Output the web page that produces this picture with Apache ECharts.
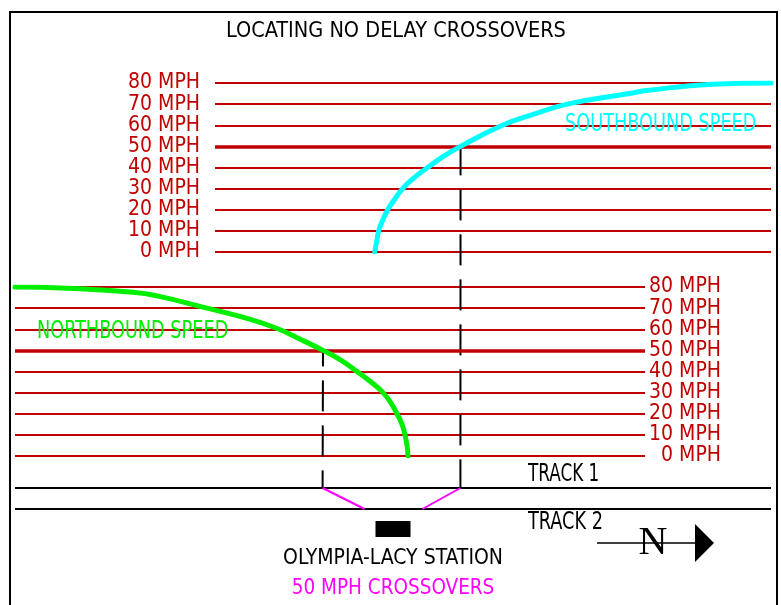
<!DOCTYPE html>
<html>
<head>
<meta charset="utf-8">
<title>Locating No Delay Crossovers</title>
<script src="https://cdn.jsdelivr.net/npm/echarts@6/dist/echarts.min.js"></script>
<style>
  html, body { margin: 0; padding: 0; background: #fff; }
  #main { width: 781px; height: 605px; }
</style>
</head>
<body>
<div id="main"></div>
<script>
// speed scale and its tick labels
var speedTicks = [0, 10, 20, 30, 40, 50, 60, 70, 80];
var speedLabels = ['0 MPH', '10 MPH', '20 MPH', '30 MPH', '40 MPH', '50 MPH', '60 MPH', '70 MPH', '80 MPH'];

// southbound speed profile (distance along track, ft / mph)
var sbDistance = [3600, 3620, 3640, 3680, 3730, 3800, 3880, 3990, 4130, 4280, 4460, 4880, 5180, 5530, 6150, 6320, 6980, 7570];
var sbSpeed = [0, 5, 10, 15, 20, 25, 30, 35, 40, 45, 50, 60, 65, 70, 75, 76.4, 79.4, 80];

// northbound speed profile
var nbDistance = [0, 520, 1180, 1420, 1920, 2330, 2640, 2820, 3080, 3270, 3420, 3560, 3680, 3760, 3820, 3870, 3900, 3920, 3930];
var nbSpeed = [80, 79.4, 77.5, 75.8, 70, 65, 60, 56, 50, 45, 40, 35, 30, 25, 20, 15, 10, 5, 0];

// crossovers: track 1 position -> track 2 position
var crossoverSpeed = 50;
var nbCrossover = [3080, 3500];
var sbCrossover = [4460, 4080];
var stationAt = 3785;
var trackNames = ['TRACK 1', 'TRACK 2'];
var trackEnd = 7570;

var font = "'DejaVu Sans Condensed', 'Liberation Sans Narrow', sans-serif";
var fs = 21;
var red = '#c00000';

function pairs(xs, ys) {
  return xs.map(function (x, i) { return [x, ys[i]]; });
}

var chartDom = document.getElementById('main');
var myChart = echarts.init(chartDom);

var speedAxis = {
  type: 'value',
  min: 0,
  max: 80,
  interval: 10,
  axisLine: { show: false },
  axisTick: { show: false },
  splitLine: { lineStyle: { color: red, width: 2 } },
  axisLabel: {
    color: red,
    fontFamily: font,
    fontSize: fs,
    showMinLabel: true,
    showMaxLabel: true,
    hideOverlap: false,
    align: 'right',
    formatter: function (v) { return speedLabels[speedTicks.indexOf(v)]; }
  }
};

var option = {
  animation: false,
  title: {
    text: 'LOCATING NO DELAY CROSSOVERS',
    left: 221,
    top: 15,
    textStyle: { fontFamily: font, fontSize: 21.5, fontWeight: 'normal', color: '#000' }
  },
  grid: [
    { left: 215, right: 10, top: 83, bottom: 353, outerBoundsMode: 'none' },
    { left: 15, right: 136, top: 287, bottom: 149, outerBoundsMode: 'none' },
    { left: 15, right: 10, top: 488, bottom: 75, outerBoundsMode: 'none' }
  ],
  xAxis: [
    { gridIndex: 0, type: 'value', min: 2000, max: trackEnd, show: false },
    { gridIndex: 1, type: 'value', min: 0, max: 6300, show: false },
    { gridIndex: 2, type: 'value', min: 0, max: trackEnd, show: false }
  ],
  yAxis: [
    Object.assign({}, speedAxis, { gridIndex: 0, position: 'left', axisLabel: Object.assign({}, speedAxis.axisLabel, { margin: 15 }) }),
    Object.assign({}, speedAxis, { gridIndex: 1, position: 'right', axisLabel: Object.assign({}, speedAxis.axisLabel, { margin: 76 }) }),
    { gridIndex: 2, type: 'value', min: -1, max: 1, show: false }
  ],
  series: [
    {
      name: 'SOUTHBOUND SPEED',
      type: 'line',
      xAxisIndex: 0, yAxisIndex: 0,
      data: pairs(sbDistance, sbSpeed),
      smooth: 0.5,
      showSymbol: false,
      z: 5,
      lineStyle: { color: '#00ffff', width: 5, cap: 'round' },
      markLine: {
        silent: true, symbol: 'none', label: { show: false },
        lineStyle: { color: red, width: 3.5, type: 'solid' },
        data: [{ yAxis: crossoverSpeed }]
      }
    },
    {
      name: 'NORTHBOUND SPEED',
      type: 'line',
      xAxisIndex: 1, yAxisIndex: 1,
      data: pairs(nbDistance, nbSpeed),
      smooth: 0.5,
      showSymbol: false,
      z: 5,
      lineStyle: { color: '#00ee00', width: 5, cap: 'round' },
      markLine: {
        silent: true, symbol: 'none', label: { show: false },
        lineStyle: { color: red, width: 3.5, type: 'solid' },
        data: [{ yAxis: crossoverSpeed }]
      }
    },
    {
      name: trackNames[0],
      type: 'line',
      xAxisIndex: 2, yAxisIndex: 2,
      data: [[0, 1], [trackEnd, 1]],
      showSymbol: false,
      lineStyle: { color: '#000', width: 2 }
    },
    {
      name: trackNames[1],
      type: 'line',
      xAxisIndex: 2, yAxisIndex: 2,
      data: [[0, 0], [trackEnd, 0]],
      showSymbol: false,
      lineStyle: { color: '#000', width: 2 }
    },
    {
      name: 'nb crossover',
      type: 'line',
      xAxisIndex: 2, yAxisIndex: 2,
      data: [[nbCrossover[0], 1], [nbCrossover[1], 0]],
      showSymbol: false,
      z: 4,
      lineStyle: { color: '#ff00ff', width: 2 }
    },
    {
      name: 'sb crossover',
      type: 'line',
      xAxisIndex: 2, yAxisIndex: 2,
      data: [[sbCrossover[0], 1], [sbCrossover[1], 0]],
      showSymbol: false,
      z: 4,
      lineStyle: { color: '#ff00ff', width: 2 }
    },
    {
      name: 'station',
      type: 'scatter',
      xAxisIndex: 2, yAxisIndex: 2,
      clip: false,
      symbol: 'rect',
      symbolSize: [35, 16],
      itemStyle: { color: '#000', opacity: 1 },
      data: [[stationAt, -0.95]],
      label: {
        show: true,
        position: 'bottom',
        distance: 7,
        formatter: '{a|OLYMPIA-LACY STATION}\n{b|50 MPH CROSSOVERS}',
        rich: {
          a: { fontFamily: font, fontSize: fs, color: '#000', lineHeight: 30 },
          b: { fontFamily: font, fontSize: fs - 0.5, color: '#ff00ff', lineHeight: 30 }
        }
      }
    }
  ]
};

myChart.setOption(option);

// dashed verticals from where each curve reaches 50 mph down to track 1
var sbTop = myChart.convertToPixel({ xAxisIndex: 0, yAxisIndex: 0 }, [sbCrossover[0], crossoverSpeed]);
var sbBot = myChart.convertToPixel({ xAxisIndex: 2, yAxisIndex: 2 }, [sbCrossover[0], 1]);
var nbTop = myChart.convertToPixel({ xAxisIndex: 1, yAxisIndex: 1 }, [nbCrossover[0], crossoverSpeed]);
var nbBot = myChart.convertToPixel({ xAxisIndex: 2, yAxisIndex: 2 }, [nbCrossover[0], 1]);
var tr1 = myChart.convertToPixel({ xAxisIndex: 2, yAxisIndex: 2 }, [0, 1]);
var tr2 = myChart.convertToPixel({ xAxisIndex: 2, yAxisIndex: 2 }, [0, 0]);

// condensed text, squeezed horizontally to look like the narrow original lettering
function txt(s, x, y, color, sx) {
  return {
    type: 'text', z: 10, x: x, y: y, scaleX: sx,
    style: { text: s, fill: color, font: '24px ' + font, verticalAlign: 'middle' }
  };
}

myChart.setOption({
  graphic: [
    { type: 'rect', z: 0, shape: { x: 10, y: 12, width: 767, height: 620 }, style: { fill: null, stroke: '#000', lineWidth: 2 } },
    { type: 'line', z: 3, shape: { x1: sbTop[0], y1: sbTop[1] - 2, x2: sbBot[0], y2: sbBot[1] }, style: { stroke: '#000', lineWidth: 2, lineDash: [31, 14] } },
    { type: 'line', z: 3, shape: { x1: nbTop[0], y1: nbTop[1], x2: nbBot[0], y2: nbBot[1] }, style: { stroke: '#000', lineWidth: 2, lineDash: [31, 14], lineDashOffset: 15 } },
    txt('SOUTHBOUND SPEED', 565, 125, '#00ffff', 0.82),
    txt('NORTHBOUND SPEED', 37, 332, '#00ee00', 0.82),
    txt(trackNames[0], 528, tr1[1] - 13, '#000', 0.78),
    txt(trackNames[1], 528, tr2[1] + 14, '#000', 0.82),
    // north arrow
    { type: 'line', z: 10, shape: { x1: 597, y1: 543, x2: 696, y2: 543 }, style: { stroke: '#000', lineWidth: 1.5 } },
    { type: 'polygon', z: 10, shape: { points: [[695, 524], [714, 543], [695, 562]] }, style: { fill: '#000' } },
    { type: 'text', z: 11, x: 653, y: 543, style: { text: 'N', fill: '#000', font: '40px "Liberation Serif", "DejaVu Serif", serif', align: 'center', verticalAlign: 'middle' } }
  ]
});
</script>
</body>
</html>
